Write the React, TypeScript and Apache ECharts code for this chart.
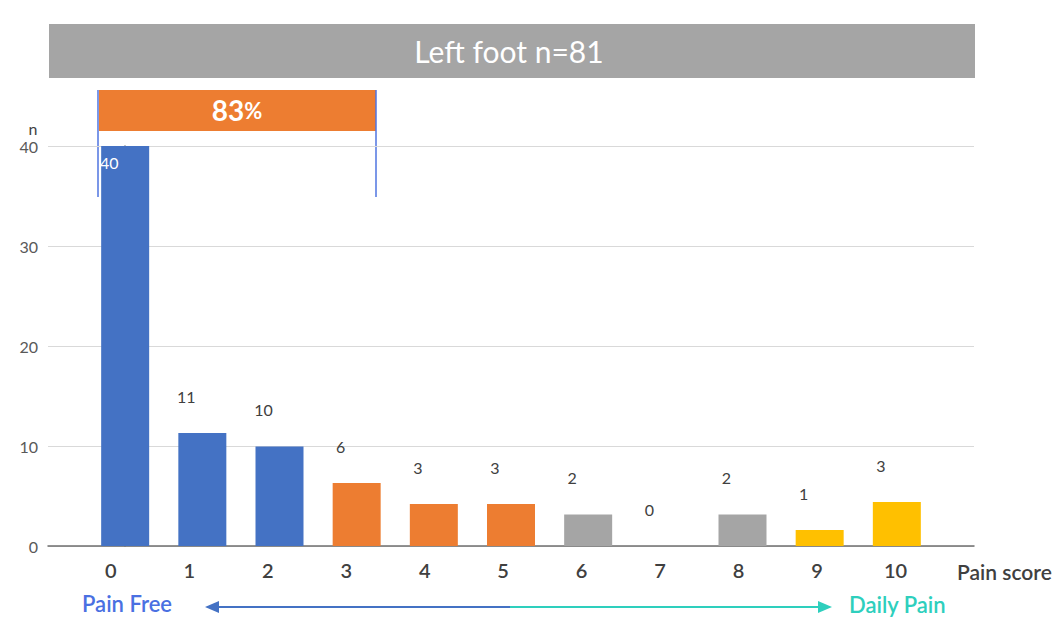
import React, { useEffect, useRef } from "react";
import * as echarts from "echarts";

const scores = [0, 1, 2, 3, 4, 5, 6, 7, 8, 9, 10];
const barHeights = [40, 11.3, 9.95, 6.3, 4.2, 4.2, 3.15, 0, 3.15, 1.6, 4.4];
const labelTexts = ["40", "11", "10", "6", "3", "3", "2", "0", "2", "1", "3"];
const barColors = [
  "#4472C4", "#4472C4", "#4472C4",
  "#ED7D31", "#ED7D31", "#ED7D31",
  "#A5A5A5", "#A5A5A5", "#A5A5A5",
  "#FFC000", "#FFC000",
];
const yTicks = [0, 10, 20, 30, 40];
const titleText = "Left foot n=81";
const percentText = "83";

const FONT = "Lato, 'Open Sans', sans-serif";

export default function App() {
  const ref = useRef<HTMLDivElement>(null);
  useEffect(() => {
    document.body.style.margin = "0";
    if (!ref.current) return;
    const chart = echarts.init(ref.current, undefined, { renderer: "svg" });
    const data = scores.map((s, i) => {
      const item: any = {
        value: [s, barHeights[i]],
        itemStyle: { color: barColors[i] },
      };
      if (i === 0) {
        item.label = {
          position: "insideTop",
          offset: [-16, 3],
          color: "#ffffff",
        };
      }
      return item;
    });
    chart.setOption({
      animation: false,
      textStyle: { fontFamily: FONT },
      grid: { left: 48, right: 87, top: 146, bottom: 87 },
      xAxis: [
        {
          type: "value",
          min: -1,
          max: 11,
          interval: 1,
          axisLine: { show: true, lineStyle: { color: "#6F6F6F", width: 1.5 } },
          axisTick: { show: false },
          splitLine: { show: false },
          axisLabel: { show: false },
        },
        {
          type: "value",
          position: "bottom",
          min: -0.8,
          max: 11,
          interval: 0.2,
          axisLine: { show: false },
          axisTick: { show: false },
          splitLine: { show: false },
          axisLabel: {
            margin: 14,
            color: "#404040",
            fontSize: 20,
            fontWeight: 600,
            fontFamily: FONT,
            formatter: (v: number) => {
              const r = Math.round(v);
              return Math.abs(v - r) < 1e-6 && r >= 0 && r <= 10 ? String(r) : "";
            },
          },
        },
      ],
      yAxis: {
        type: "value",
        min: 0,
        max: 40,
        interval: 10,
        axisLine: { show: true, lineStyle: { color: "#6F6F6F", width: 1.5 } },
        axisTick: { show: false },
        splitLine: { lineStyle: { color: "#D9D9D9", width: 1 } },
        axisLabel: {
          margin: 10,
          color: "#595959",
          fontSize: 16,
          fontFamily: FONT,
          formatter: (v: number) => (yTicks.includes(v) ? String(v) : ""),
        },
      },
      series: [
        {
          type: "bar",
          xAxisIndex: 0,
          barWidth: 48,
          data,
          label: {
            show: true,
            position: "top",
            offset: [-16, -24],
            color: "#404040",
            fontSize: 16,
            fontFamily: FONT,
            formatter: (p: any) => labelTexts[p.dataIndex],
          },
        },
      ],
      graphic: [
        {
          type: "rect",
          shape: { x: 49, y: 24, width: 926, height: 54 },
          style: { fill: "#A5A5A5" },
        },
        {
          type: "text",
          x: 509,
          y: 51,
          style: {
            text: titleText,
            fill: "#ffffff",
            fontSize: 30,
            fontFamily: FONT,
            align: "center",
            verticalAlign: "middle",
          },
        },
        {
          type: "rect",
          shape: { x: 99, y: 90, width: 277, height: 41 },
          style: { fill: "#ED7D31" },
        },
        {
          type: "text",
          x: 237,
          y: 110,
          style: {
            text: "{a|" + percentText + "}{b|%}",
            align: "center",
            verticalAlign: "middle",
            rich: {
              a: { fontSize: 28, fontWeight: "bold", fill: "#ffffff", fontFamily: FONT },
              b: { fontSize: 22, fontWeight: "bold", fill: "#ffffff", fontFamily: FONT },
            },
          },
        },
        {
          type: "line",
          shape: { x1: 98, y1: 90, x2: 98, y2: 197 },
          style: { stroke: "#4F74E0", lineWidth: 1.5 },
        },
        {
          type: "line",
          shape: { x1: 376, y1: 90, x2: 376, y2: 197 },
          style: { stroke: "#4F74E0", lineWidth: 1.5 },
        },
        {
          type: "text",
          x: 33,
          y: 128,
          style: {
            text: "n",
            fill: "#404040",
            fontSize: 16,
            fontFamily: FONT,
            align: "center",
            verticalAlign: "middle",
          },
        },
        {
          type: "text",
          x: 957,
          y: 571,
          style: {
            text: "Pain score",
            fill: "#404040",
            fontSize: 21,
            fontWeight: 600,
            fontFamily: FONT,
            align: "left",
            verticalAlign: "middle",
          },
        },
        {
          type: "text",
          x: 82,
          y: 603,
          style: {
            text: "Pain Free",
            fill: "#4A70E2",
            fontSize: 22,
            fontWeight: 600,
            fontFamily: FONT,
            align: "left",
            verticalAlign: "middle",
          },
        },
        {
          type: "text",
          x: 849,
          y: 604,
          style: {
            text: "Daily Pain",
            fill: "#2ECFBD",
            fontSize: 22,
            fontWeight: 600,
            fontFamily: FONT,
            align: "left",
            verticalAlign: "middle",
          },
        },
        {
          type: "line",
          shape: { x1: 215, y1: 607, x2: 510, y2: 607 },
          style: { stroke: "#4472C4", lineWidth: 2 },
        },
        {
          type: "line",
          shape: { x1: 510, y1: 607, x2: 822, y2: 607 },
          style: { stroke: "#2ECFBD", lineWidth: 2 },
        },
        {
          type: "polygon",
          shape: { points: [[205, 607], [219, 601], [219, 613]] },
          style: { fill: "#4472C4" },
        },
        {
          type: "polygon",
          shape: { points: [[832, 607], [818, 601], [818, 613]] },
          style: { fill: "#2ECFBD" },
        },
      ],
    });
    return () => chart.dispose();
  }, []);
  return <div ref={ref} style={{ width: 1061, height: 633 }} />;
}
